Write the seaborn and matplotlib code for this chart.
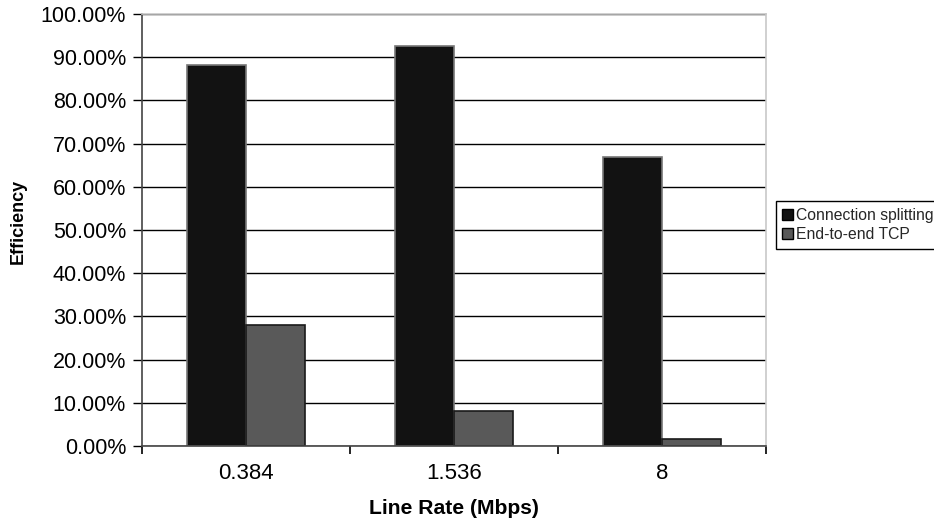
import matplotlib
matplotlib.use("Agg")
import matplotlib.pyplot as plt
from matplotlib.ticker import PercentFormatter, FixedLocator
import seaborn as sns
import pandas as pd

categories = ["0.384", "1.536", "8"]
series_names = ["Connection splitting", "End-to-end TCP"]
conn_split = [88.2, 92.5, 67.0]
end_to_end = [28.0, 8.2, 1.7]
colors = ["#121212", "#595959"]

df = pd.DataFrame({
    "rate": categories * 2,
    "eff": conn_split + end_to_end,
    "series": [series_names[0]] * 3 + [series_names[1]] * 3,
})

sns.set_theme(style="white")
plt.rcParams["font.family"] = ["Liberation Sans", "DejaVu Sans"]

fig = plt.figure(figsize=(9.34, 5.25), dpi=100)
ax = fig.add_axes([142 / 934, 1 - 446 / 525, (766 - 142) / 934, (446 - 14) / 525])

sns.barplot(data=df, x="rate", y="eff", hue="series", order=categories,
            hue_order=series_names, palette=colors, width=0.572,
            saturation=1, ax=ax, legend=True)

edge_cols = ["#777777", "#1a1a1a"]
for cont, ec in zip(ax.containers, edge_cols):
    for p in cont.patches:
        p.set_edgecolor(ec)
        p.set_linewidth(1.2)

ax.set_xlim(-0.5, 2.5)
ax.set_ylim(0, 100)
ax.yaxis.set_major_locator(FixedLocator(list(range(0, 101, 10))))
ax.yaxis.set_major_formatter(PercentFormatter(xmax=100, decimals=2))
ax.grid(axis="y", color="black", linewidth=1.0)
ax.grid(axis="x", visible=False)
ax.set_axisbelow(True)

ax.tick_params(axis="y", which="major", direction="out", length=6.5, width=1,
               color="black", pad=5, labelsize=15.5, labelcolor="black", left=True)
ax.set_xticks([-0.5, 0.5, 1.5, 2.5], minor=True)
ax.tick_params(axis="x", which="minor", direction="out", length=6, width=1.2,
               color="black", bottom=True)
ax.tick_params(axis="x", which="major", length=0, pad=12, labelsize=16,
               labelcolor="black")

for s in ["left", "bottom"]:
    ax.spines[s].set_color("#444444")
    ax.spines[s].set_linewidth(1.2)
for s in ["top", "right"]:
    ax.spines[s].set_color("#c8c8c8")
    ax.spines[s].set_linewidth(1.2)

ax.set_xlabel("Line Rate (Mbps)", fontsize=15.2, fontweight="bold", labelpad=11,
              color="black")
ax.set_ylabel("Efficiency", fontsize=13, fontweight="bold", color="black")
ax.yaxis.set_label_coords((27 - 142) / 624, (446 - 221) / 432)

handles, labels = ax.get_legend_handles_labels()
ax.get_legend().remove()
leg = fig.legend(handles, labels, loc="center left",
                 bbox_to_anchor=(776 / 934, 1 - 225 / 525),
                 fontsize=11.3, frameon=True, fancybox=False, edgecolor="black",
                 framealpha=1, handlelength=0.7, handleheight=0.7,
                 handletextpad=0.2, borderpad=0.4, labelspacing=0.3,
                 borderaxespad=0)
leg.get_frame().set_linewidth(1.0)
for h in leg.legend_handles:
    h.set_edgecolor("black")

fig.savefig("out.png", dpi=100)
